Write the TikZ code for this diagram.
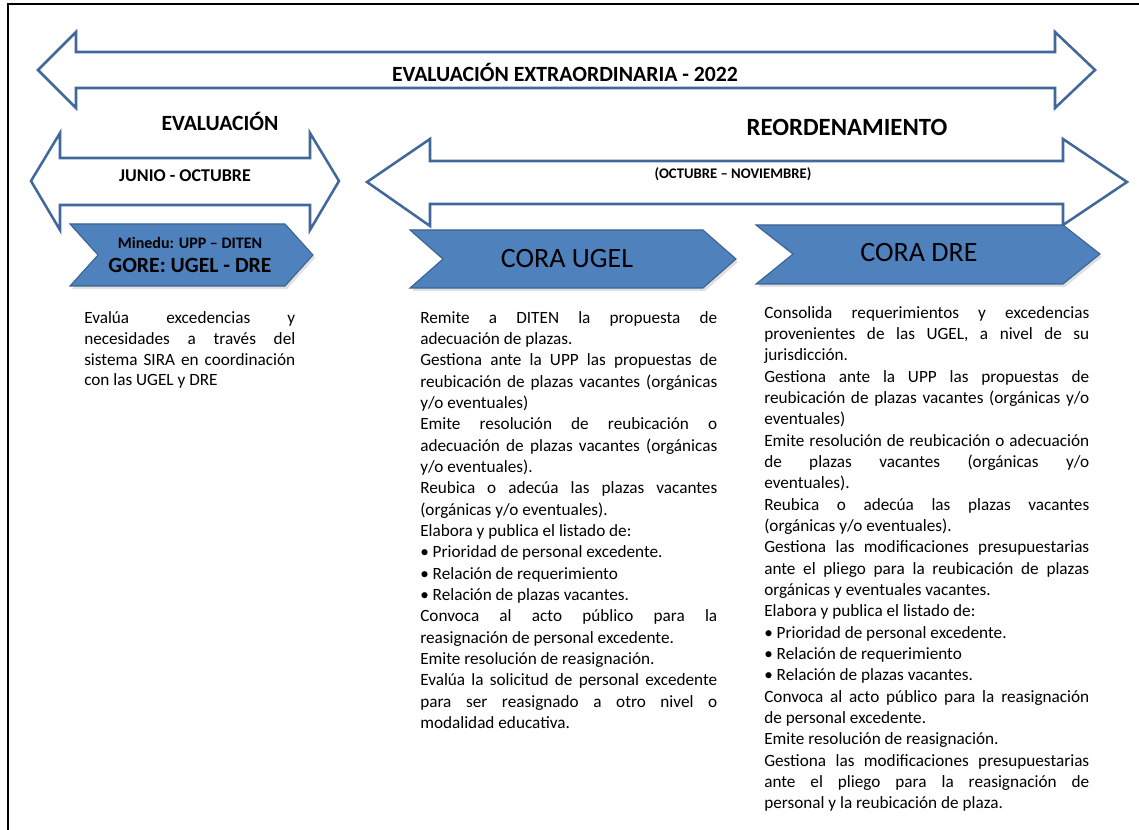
\documentclass[tikz,border=0pt]{standalone}
\usepackage{fontspec}
\setmainfont{Carlito}
\usepackage{xcolor}
\usepackage{tikz}
\usetikzlibrary{positioning, calc}

\definecolor{chevFill}{HTML}{4F81BD}
\definecolor{chevLine}{HTML}{3A6290}
\definecolor{arrowLine}{HTML}{41689A}
\setlength{\parindent}{0pt}
\hyphenpenalty=10000
\tolerance=9999

\begin{document}
\begin{tikzpicture}[x=0.75pt, y=-0.75pt,
		ArrowShape/.style={draw=arrowLine, line width=1.9pt, fill=white, line join=miter},
		ChevShape/.style={draw=chevLine, line width=0.8pt, fill=chevFill},
		ChevShadow/.style={fill=black, opacity=0.12},
		Head/.style={font=\bfseries\fontsize{16.3}{19}\selectfont, inner sep=0pt},
		BodyText/.style={anchor=north west, inner sep=0pt, align=justify, font=\fontsize{12.9}{16}\selectfont}]

	\useasboundingbox (0,0) rectangle (1139,830);

	% frame
	\draw[line width=2.2pt, line cap=rect] (8,830) -- (8,4) -- (1139,4);

	% double arrows
	\draw[ArrowShape] (38,70) -- (76,32) -- (76,52) -- (1055,52) -- (1055,32) -- (1095,70)
		-- (1055,108) -- (1055,88) -- (76,88) -- (76,108) -- cycle;
	\draw[ArrowShape] (31,181) -- (60,133) -- (60,158) -- (310,158) -- (310,133) -- (339,181)
		-- (310,230) -- (310,205) -- (60,205) -- (60,230) -- cycle;
	\draw[ArrowShape] (367,182) -- (430,139) -- (430,161) -- (1063,161) -- (1063,139) -- (1127,182)
		-- (1063,225) -- (1063,204) -- (430,204) -- (430,226) -- cycle;

	\node[Head] (title) at (565,72) {EVALUACIÓN EXTRAORDINARIA - 2022};
	\node[Head] (evalHead) at (220,121) {EVALUACIÓN};
	\node[Head, font=\bfseries\fontsize{18.6}{22}\selectfont] (reordHead) at (847,127) {REORDENAMIENTO};
	\node[Head, font=\bfseries\fontsize{13.5}{16}\selectfont] (junioLbl) at (185,176) {JUNIO - OCTUBRE};
	\node[Head, font=\bfseries\fontsize{11}{13}\selectfont] (octLbl) at (733,174) {(OCTUBRE – NOVIEMBRE)};

	% chevrons
	\fill[ChevShadow] (72,227) -- (287,227) -- (315,258) -- (287,289) -- (72,289) -- (100,258) -- cycle;
	\draw[ChevShape] (70,224) -- (285,224) -- (313,255) -- (285,286) -- (70,286) -- (98,255) -- cycle;
	\fill[ChevShadow] (412,233) -- (705,233) -- (738,262) -- (705,291) -- (412,291) -- (445,262) -- cycle;
	\draw[ChevShape] (410,230) -- (703,230) -- (736,259) -- (703,288) -- (410,288) -- (443,259) -- cycle;
	\fill[ChevShadow] (758,228) -- (1065,228) -- (1102,257) -- (1065,287) -- (758,287) -- (795,257) -- cycle;
	\draw[ChevShape] (756,225) -- (1063,225) -- (1100,254) -- (1063,284) -- (756,284) -- (793,254) -- cycle;

	\node[Head, font=\bfseries\fontsize{12}{14}\selectfont] (mineduLbl) at (190,243) {Minedu: UPP – DITEN};
	\node[Head] (goreLbl) [below=7pt of mineduLbl] {GORE: UGEL - DRE};
	\node[inner sep=0pt, font=\fontsize{21}{25}\selectfont] (coraUgel) at (567,259) {CORA UGEL};
	\node[inner sep=0pt, font=\fontsize{21}{25}\selectfont] (coraDre) at (919,253) {CORA DRE};

	% column texts
	\node[BodyText, text width=211*0.75pt, font=\fontsize{12.9}{15.5}\selectfont] (evalTxt) at (84,309) {\strut
		Evalúa excedencias y\linebreak necesidades a través del\linebreak sistema SIRA en coordinación\linebreak con las UGEL y DRE};

	\node[BodyText, text width=297*0.75pt] (ugelTxt) at (420,308) {\strut
		Remite a DITEN la propuesta de\linebreak adecuación de plazas.\par
		Gestiona ante la UPP las propuestas de\linebreak reubicación de plazas vacantes (orgánicas\linebreak y/o eventuales)\par
		Emite resolución de reubicación o\linebreak adecuación de plazas vacantes (orgánicas\linebreak y/o eventuales).\par
		Reubica o adecúa las plazas vacantes\linebreak (orgánicas y/o eventuales).\par
		Elabora y publica el listado de:\par
		• Prioridad de personal excedente.\par
		• Relación de requerimiento\par
		• Relación de plazas vacantes.\par
		Convoca al acto público para la\linebreak reasignación de personal excedente.\par
		Emite resolución de reasignación.\par
		Evalúa la solicitud de personal excedente\linebreak para ser reasignado a otro nivel o\linebreak modalidad educativa.};

	\node[BodyText, text width=325*0.75pt] (dreTxt) at (764,303) {\strut
		Consolida requerimientos y excedencias\linebreak provenientes de las UGEL, a nivel de su\linebreak jurisdicción.\par
		Gestiona ante la UPP las propuestas de\linebreak reubicación de plazas vacantes (orgánicas y/o\linebreak eventuales)\par
		Emite resolución de reubicación o adecuación\linebreak de plazas vacantes (orgánicas y/o\linebreak eventuales).\par
		Reubica o adecúa las plazas vacantes\linebreak (orgánicas y/o eventuales).\par
		Gestiona las modificaciones presupuestarias\linebreak ante el pliego para la reubicación de plazas\linebreak orgánicas y eventuales vacantes.\par
		Elabora y publica el listado de:\par
		• Prioridad de personal excedente.\par
		• Relación de requerimiento\par
		• Relación de plazas vacantes.\par
		Convoca al acto público para la reasignación\linebreak de personal excedente.\par
		Emite resolución de reasignación.\par
		Gestiona las modificaciones presupuestarias\linebreak ante el pliego para la reasignación de\linebreak personal y la reubicación de plaza.};
\end{tikzpicture}
\end{document}
